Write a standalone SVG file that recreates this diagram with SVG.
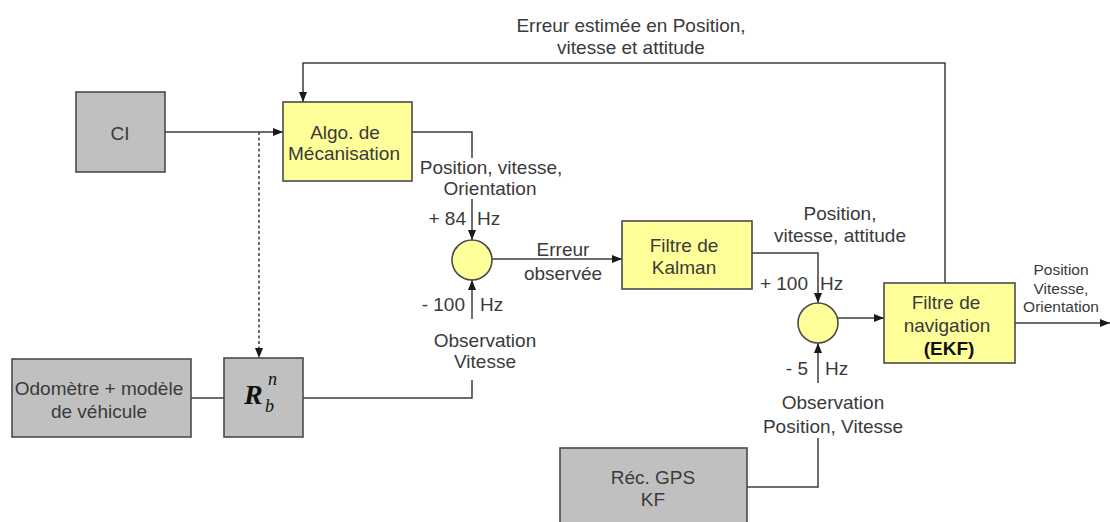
<svg xmlns="http://www.w3.org/2000/svg" width="1110" height="522" viewBox="0 0 1110 522">
<defs>
<marker id="arr" markerUnits="userSpaceOnUse" markerWidth="11" markerHeight="9" refX="10" refY="4" orient="auto">
<path d="M0,0 L10,4 L0,8 z" fill="#1a1a1a"/>
</marker>
<style>
.gray{fill:#c0c0c0;stroke:#4a4a4a;stroke-width:1.6}
.yel{fill:#ffff99;stroke:#4a4a4a;stroke-width:1.6}
.ln{fill:none;stroke:#3c3c3c;stroke-width:1.5}
.dash{stroke-dasharray:3 2.5}
text{font-family:"Liberation Sans",Arial,sans-serif;font-size:19px;fill:#3a3a3a}
.m{text-anchor:middle}
.e{text-anchor:end}
.s{font-size:15.5px}
.b{font-weight:bold;fill:#111}
.math{font-family:"Liberation Serif","Times New Roman",serif;font-style:italic;fill:#111}
.big{font-size:28px;font-weight:bold}
.sm{font-size:18px}
</style>
</defs>
<rect width="1110" height="522" fill="#ffffff"/>

<g id="connectors">
<path class="ln" d="M165,132 H283" marker-end="url(#arr)"/>
<path class="ln dash" d="M259,132 V358" marker-end="url(#arr)"/>
<path class="ln" d="M945,283 V63 H303 V102" marker-end="url(#arr)"/>
<path class="ln" d="M412,132 H472 V158"/>
<path class="ln" d="M472,199 V240" marker-end="url(#arr)"/>
<path class="ln" d="M303,398 H472 V380"/>
<path class="ln" d="M472,319 V280" marker-end="url(#arr)"/>
<path class="ln" d="M191,398 H224"/>
<path class="ln" d="M492,259 H622" marker-end="url(#arr)"/>
<path class="ln" d="M752,253 H818 V303" marker-end="url(#arr)"/>
<path class="ln" d="M747,487 H818 V438"/>
<path class="ln" d="M818,383 V343" marker-end="url(#arr)"/>
<path class="ln" d="M838,318 H884" marker-end="url(#arr)"/>
<path class="ln" d="M1015,323 H1110" marker-end="url(#arr)"/>
</g>

<g id="labels">
<text class="m" x="631" y="31.5">Erreur estimée en Position,</text>
<text class="m" x="631" y="53.5">vitesse et attitude</text>
<text class="m" x="491" y="173.5">Position, vitesse,</text>
<text class="m" x="490" y="194.5">Orientation</text>
<text class="e" x="466" y="224.5">+ 84</text>
<text x="477" y="224.5">Hz</text>
<text class="m" x="563" y="255.5">Erreur</text>
<text class="m" x="563" y="279.5">observée</text>
<text class="e" x="465" y="310.5">- 100</text>
<text x="480" y="310.5">Hz</text>
<text class="m" x="485" y="346.5">Observation</text>
<text class="m" x="485" y="367.5">Vitesse</text>
<text class="m" x="840" y="219.5">Position,</text>
<text class="m" x="840" y="241.5">vitesse, attitude</text>
<text class="e" x="808" y="289.5">+ 100</text>
<text x="820" y="289.5">Hz</text>
<text class="e" x="808" y="374.5">- 5</text>
<text x="825" y="374.5">Hz</text>
<text class="m" x="833" y="408.5">Observation</text>
<text class="m" x="833" y="432.5">Position, Vitesse</text>
<text class="m s" x="1061" y="274.5">Position</text>
<text class="m s" x="1061" y="293.5">Vitesse,</text>
<text class="m s" x="1061" y="311.5">Orientation</text>
</g>

<g id="ci">
<rect class="gray" x="76" y="92" width="89" height="80"/>
<text class="m" x="120" y="139.5">CI</text>
</g>

<g id="algo">
<rect class="yel" x="283" y="102" width="129" height="79"/>
<text class="m" x="345" y="138.5">Algo. de</text>
<text class="m" x="344" y="159.5">Mécanisation</text>
</g>

<g id="sum1">
<circle class="yel" cx="472" cy="260" r="20"/>
</g>

<g id="kalman">
<rect class="yel" x="622" y="221" width="130" height="68"/>
<text class="m" x="684" y="251.5">Filtre de</text>
<text class="m" x="684" y="273.5">Kalman</text>
</g>

<g id="sum2">
<circle class="yel" cx="818" cy="323" r="20"/>
</g>

<g id="ekf">
<rect class="yel" x="884" y="283" width="131" height="80"/>
<text class="m" x="946" y="308.5">Filtre de</text>
<text class="m" x="947" y="331.5">navigation</text>
<text class="m b" x="949" y="354.5">(EKF)</text>
</g>

<g id="odometre">
<rect class="gray" x="12" y="359" width="179" height="78"/>
<text class="m" x="99" y="394.5">Odomètre + modèle</text>
<text class="m" x="99" y="417.5">de véhicule</text>
</g>

<g id="rbn">
<rect class="gray" x="224" y="358" width="79" height="79"/>
<text class="math big" x="244" y="404">R</text>
<text class="math sm" x="268" y="385">n</text>
<text class="math sm" x="265" y="412">b</text>
</g>

<g id="gps">
<rect class="gray" x="560" y="448" width="187" height="80"/>
<text class="m" x="653" y="483.5">Réc. GPS</text>
<text class="m" x="653" y="505.5">KF</text>
</g>
</svg>
